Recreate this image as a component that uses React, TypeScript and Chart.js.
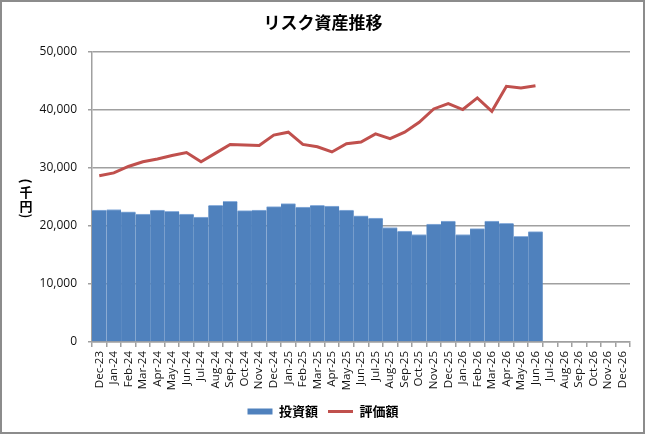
import { useEffect, useRef } from "react";
import { Chart, registerables } from "chart.js";
import type { Plugin } from "chart.js";

Chart.register(...registerables);

const months = [
	"Dec-23", "Jan-24", "Feb-24", "Mar-24", "Apr-24", "May-24", "Jun-24",
	"Jul-24", "Aug-24", "Sep-24", "Oct-24", "Nov-24", "Dec-24", "Jan-25",
	"Feb-25", "Mar-25", "Apr-25", "May-25", "Jun-25", "Jul-25", "Aug-25",
	"Sep-25", "Oct-25", "Nov-25", "Dec-25", "Jan-26", "Feb-26", "Mar-26",
	"Apr-26", "May-26", "Jun-26", "Jul-26", "Aug-26", "Sep-26", "Oct-26",
	"Nov-26", "Dec-26",
];

// 投資額 (千円)
const invested = [
	22700, 22800, 22400, 22000, 22700, 22500, 22000, 21500, 23500, 24200,
	22600, 22700, 23300, 23800, 23200, 23500, 23400, 22700, 21700, 21300,
	19700, 19100, 18500, 20300, 20800, 18500, 19500, 20800, 20400, 18200,
	19000,
];

// 評価額 (千円)
const valuation = [
	28600, 29100, 30200, 31000, 31500, 32100, 32600, 31000, 32500, 34000,
	33900, 33800, 35600, 36100, 34000, 33600, 32700, 34100, 34400, 35800,
	35000, 36100, 37800, 40100, 41000, 40000, 42000, 39700, 44000, 43700,
	44100,
];

const yTicks = [0, 10000, 20000, 30000, 40000, 50000];

const BAR_COLOR = "#4f81bd";
const LINE_COLOR = "#c0504d";
const GRID_COLOR = "#a0a0a0";
const JP_FONT = "'Noto Sans CJK JP', sans-serif";
const TICK_FONT = "'Open Sans', sans-serif";

const frame: Plugin = {
	id: "frame",
	beforeDraw(chart) {
		const { ctx, width, height } = chart;
		ctx.save();
		ctx.fillStyle = "#ffffff";
		ctx.fillRect(0, 0, width, height);
		ctx.strokeStyle = "#8c8c8c";
		ctx.lineWidth = 2;
		ctx.strokeRect(1, 1, width - 2, height - 2);
		ctx.restore();
	},
};

// y-axis title written top to bottom, kanji upright, brackets turned
const yTitle: Plugin = {
	id: "yTitle",
	afterDraw(chart) {
		const { ctx } = chart;
		const parts: [string, number, boolean][] = [
			["(", 181, true],
			["千", 192, false],
			["円", 206, false],
			[")", 216, true],
		];
		ctx.save();
		ctx.font = `bold 13px ${JP_FONT}`;
		ctx.fillStyle = "#000";
		ctx.textAlign = "center";
		ctx.textBaseline = "middle";
		for (const [c, y, turn] of parts) {
			ctx.save();
			ctx.translate(26, y);
			if (turn) ctx.rotate(Math.PI / 2);
			ctx.fillText(c, 0, 0);
			ctx.restore();
		}
		ctx.restore();
	},
};

export default function App() {
	const chartRef = useRef<HTMLCanvasElement>(null);
	const chartInstance = useRef<Chart | null>(null);

	useEffect(() => {
		if (!chartRef.current) return;
		if (chartInstance.current) chartInstance.current.destroy();

		chartInstance.current = new Chart(chartRef.current, {
			type: "bar",
			data: {
				labels: months,
				datasets: [
					{
						type: "bar",
						label: "投資額",
						data: invested,
						backgroundColor: BAR_COLOR,
						borderColor: "#8db0dc",
						borderWidth: { top: 1, left: 0, right: 0, bottom: 0 },
						borderSkipped: false,
						barPercentage: 1,
						categoryPercentage: 1,
						order: 2,
					},
					{
						type: "line",
						label: "評価額",
						data: valuation,
						borderColor: LINE_COLOR,
						backgroundColor: LINE_COLOR,
						borderWidth: 3,
						pointRadius: 0,
						tension: 0,
						order: 1,
					},
				],
			},
			options: {
				responsive: false,
				animation: false,
				layout: { padding: { left: 16, right: 15, top: 6, bottom: 6 } },
				plugins: {
					title: {
						display: true,
						text: "リスク資産推移",
						color: "#000",
						font: { family: JP_FONT, size: 17, weight: "bold" },
						padding: { top: 6, bottom: 19 },
					},
					legend: {
						position: "bottom",
						labels: {
							usePointStyle: true,
							boxWidth: 25,
							boxHeight: 6,
							pointStyleWidth: 25,
							padding: 10,
							color: "#000",
							font: { family: JP_FONT, size: 13, weight: "bold" },
							generateLabels: () => [
								{
									text: "投資額",
									fillStyle: BAR_COLOR,
									strokeStyle: BAR_COLOR,
									lineWidth: 0,
									pointStyle: "rect",
									datasetIndex: 0,
									hidden: false,
								},
								{
									text: "評価額",
									fillStyle: LINE_COLOR,
									strokeStyle: LINE_COLOR,
									lineWidth: 3,
									pointStyle: "line",
									datasetIndex: 1,
									hidden: false,
								},
							],
						},
					},
					tooltip: { enabled: false },
				},
				scales: {
					x: {
						offset: true,
						afterFit: (s) => {
							s.height = 53;
						},
						border: { color: GRID_COLOR, width: 1.5 },
						grid: {
							offset: true,
							drawOnChartArea: false,
							drawTicks: true,
							tickLength: 5,
							color: GRID_COLOR,
							lineWidth: 1.5,
						},
						ticks: {
							autoSkip: false,
							maxRotation: 90,
							minRotation: 90,
							padding: 4,
							color: "#111",
							font: { family: TICK_FONT, size: 11.5 },
						},
					},
					y: {
						min: 0,
						max: 50000,
						afterFit: (s) => {
							s.width = 92 - 16;
						},
						afterBuildTicks: (s) => {
							s.ticks = yTicks.map((v) => ({ value: v }));
						},
						border: { color: GRID_COLOR, width: 1.5 },
						grid: {
							color: GRID_COLOR,
							lineWidth: 1.5,
							tickLength: 4,
						},
						ticks: {
							padding: 11,
							color: "#111",
							font: { family: TICK_FONT, size: 12 },
							callback: (v) => Number(v).toLocaleString("en-US"),
						},
					},
				},
			},
			plugins: [frame, yTitle],
		});

		return () => {
			if (chartInstance.current) {
				chartInstance.current.destroy();
				chartInstance.current = null;
			}
		};
	}, []);

	return (
		<div style={{ position: "absolute", left: 0, top: 0, width: 645, height: 434 }}>
			<canvas ref={chartRef} width={645} height={434} />
		</div>
	);
}
